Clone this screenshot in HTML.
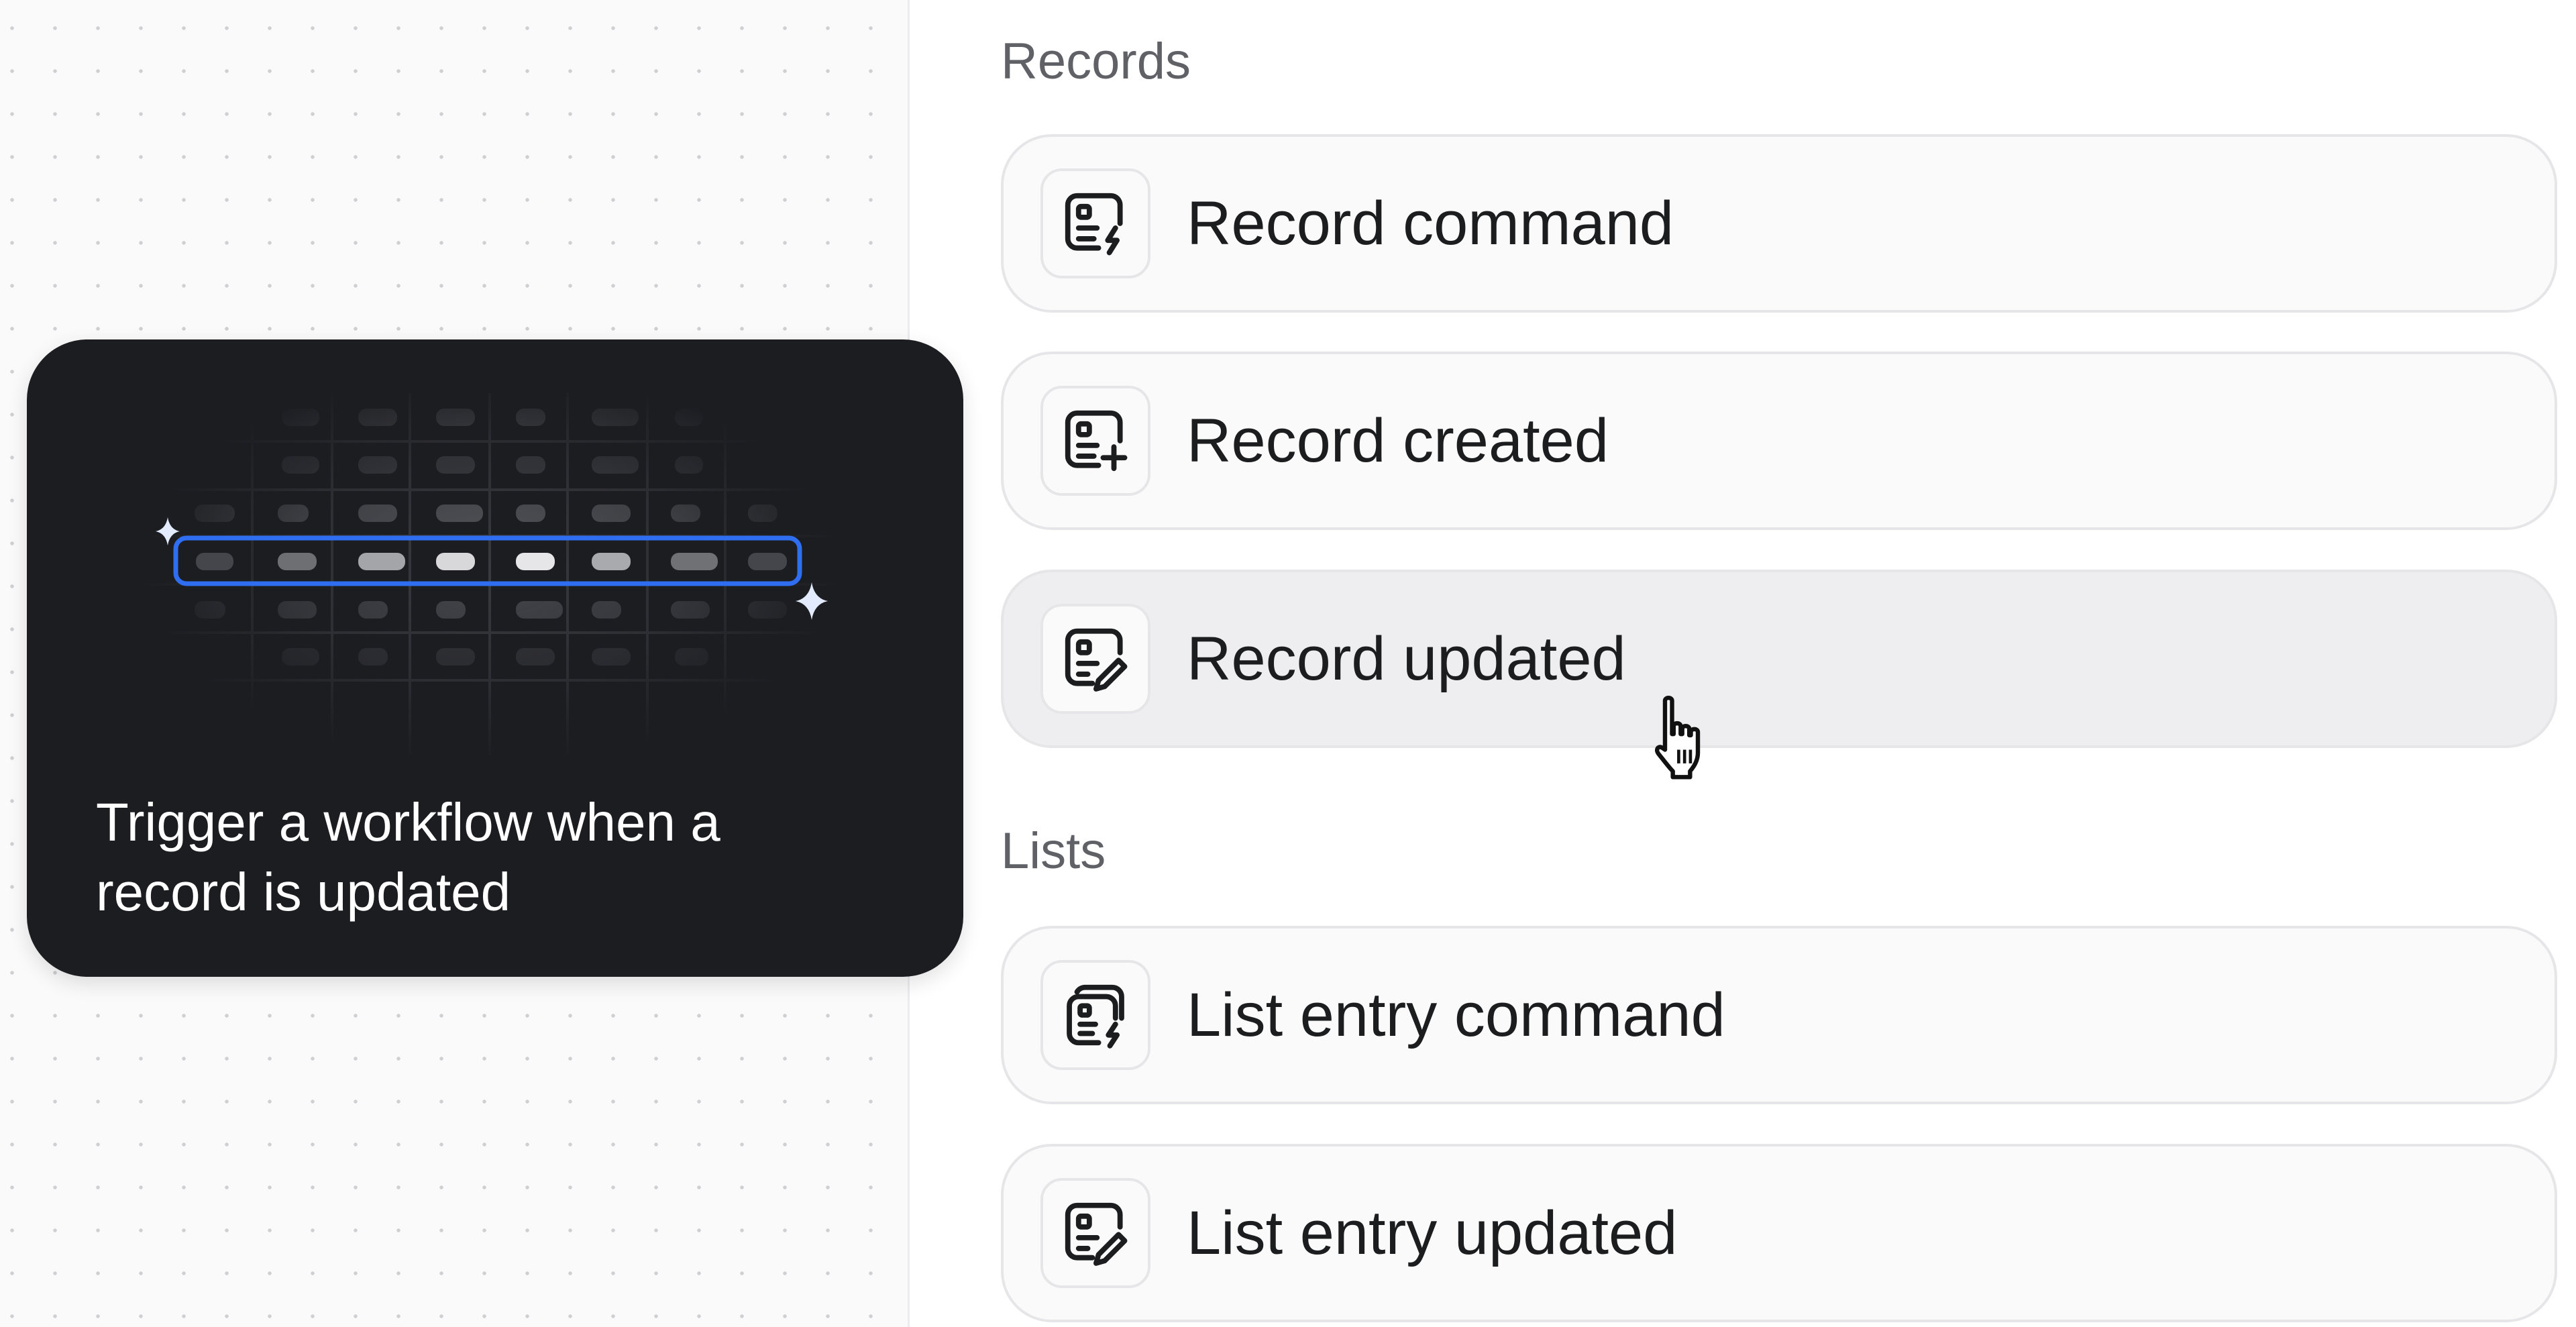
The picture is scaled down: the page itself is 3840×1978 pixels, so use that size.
<!DOCTYPE html>
<html><head><meta charset="utf-8"><style>
*{margin:0;padding:0;box-sizing:border-box}
body{width:3840px;height:1978px;position:relative;overflow:hidden;background:#fff;font-family:"Liberation Sans",sans-serif}
#left{position:absolute;left:0;top:0;width:1356px;height:1978px;background-color:#fafafa;background-image:radial-gradient(circle,#cfcfd2 2.5px,transparent 3px);background-size:64px 64px;background-position:-14px 10px;border-right:3px solid #ececee}
#card{position:absolute;left:40px;top:506px;width:1396px;height:950px;background:#1c1d21;border-radius:90px;box-shadow:0 10px 30px rgba(0,0,0,.12)}
#card .t{position:absolute;left:103px;top:668px;color:#fff;font-size:80px;line-height:104px;width:1250px}
.lbl{position:absolute;left:1492px;color:#5f6166;font-size:76px}
.item{position:absolute;left:1492px;width:2320px;height:266px;border:4px solid #e6e6e9;border-radius:76px;background:#fafafa}
.item.h{background:#eeeef0}
.ic{position:absolute;left:55px;top:47px;width:164px;height:164px;border:4px solid #e6e6e9;border-radius:32px;background:#fafafa}
.ic svg{position:absolute;left:23px;top:23px}
.item .tx{position:absolute;left:273px;top:0;line-height:258px;font-size:92px;color:#1c1d1f}
</style></head><body>
<div id="left"></div>
<div id="card">
<svg width="1396" height="950" style="position:absolute;left:0;top:0">
<defs>
<radialGradient id="rg" cx="0.5" cy="0.5" r="0.5"><stop offset="0" stop-color="#fff" stop-opacity="1"/><stop offset="0.55" stop-color="#fff" stop-opacity=".6"/><stop offset="1" stop-color="#fff" stop-opacity="0"/></radialGradient>
<mask id="m"><rect x="160" y="40" width="1060" height="600" fill="url(#rg)"/></mask>
</defs>
<g mask="url(#m)" stroke="#3a3b40" stroke-width="4">
<line x1="336" y1="80" x2="336" y2="620"/><line x1="455" y1="80" x2="455" y2="620"/><line x1="571" y1="80" x2="571" y2="620"/><line x1="690" y1="80" x2="690" y2="620"/><line x1="806" y1="80" x2="806" y2="620"/><line x1="925" y1="80" x2="925" y2="620"/><line x1="1041" y1="80" x2="1041" y2="620"/>
<line x1="100" y1="152" x2="1300" y2="152"/><line x1="100" y1="224" x2="1300" y2="224"/><line x1="100" y1="293" x2="1300" y2="293"/><line x1="100" y1="365" x2="1300" y2="365"/><line x1="100" y1="437" x2="1300" y2="437"/><line x1="100" y1="508" x2="1300" y2="508"/>
</g>
<g mask="url(#m)" fill="#55565b">
<rect x="380" y="103" width="56" height="26" rx="12"/><rect x="494" y="103" width="58" height="26" rx="12"/><rect x="610" y="103" width="58" height="26" rx="12"/><rect x="729" y="103" width="44" height="26" rx="12"/><rect x="842" y="103" width="70" height="26" rx="12"/><rect x="966" y="103" width="42" height="26" rx="12"/>
<g fill="#404146"><rect x="380" y="174" width="56" height="26" rx="12"/><rect x="494" y="174" width="58" height="26" rx="12"/><rect x="610" y="174" width="58" height="26" rx="12"/><rect x="729" y="174" width="44" height="26" rx="12"/><rect x="842" y="174" width="70" height="26" rx="12"/><rect x="966" y="174" width="42" height="26" rx="12"/></g>
<rect x="250" y="246" width="60" height="26" rx="12"/><rect x="374" y="246" width="46" height="26" rx="12"/><rect x="494" y="246" width="58" height="26" rx="12"/><rect x="610" y="246" width="70" height="26" rx="12"/><rect x="729" y="246" width="44" height="26" rx="12"/><rect x="842" y="246" width="58" height="26" rx="12"/><rect x="960" y="246" width="44" height="26" rx="12"/><rect x="1075" y="246" width="44" height="26" rx="12"/>
<g fill="#46474c"><rect x="250" y="390" width="46" height="26" rx="12"/><rect x="374" y="390" width="58" height="26" rx="12"/><rect x="494" y="390" width="44" height="26" rx="12"/><rect x="610" y="390" width="44" height="26" rx="12"/><rect x="729" y="390" width="70" height="26" rx="12"/><rect x="842" y="390" width="44" height="26" rx="12"/><rect x="960" y="390" width="58" height="26" rx="12"/><rect x="1075" y="390" width="58" height="26" rx="12"/></g>
<g fill="#35363b"><rect x="380" y="460" width="56" height="26" rx="12"/><rect x="494" y="460" width="44" height="26" rx="12"/><rect x="610" y="460" width="58" height="26" rx="12"/><rect x="729" y="460" width="58" height="26" rx="12"/><rect x="842" y="460" width="58" height="26" rx="12"/><rect x="966" y="460" width="50" height="26" rx="12"/></g>
</g>
<g>
<rect x="252" y="318" width="56" height="26" rx="12" fill="#45464b"/><rect x="374" y="318" width="58" height="26" rx="12" fill="#6e6f73"/><rect x="494" y="318" width="70" height="26" rx="12" fill="#a4a5a8"/><rect x="610" y="318" width="58" height="26" rx="12" fill="#d8d8da"/><rect x="729" y="318" width="58" height="26" rx="12" fill="#e6e6e8"/><rect x="842" y="318" width="58" height="26" rx="12" fill="#a9aaad"/><rect x="960" y="318" width="70" height="26" rx="12" fill="#707175"/><rect x="1075" y="318" width="58" height="26" rx="12" fill="#45464b"/>
</g>
<rect x="222" y="296" width="930" height="68" rx="16" fill="none" stroke="#2f6ef0" stroke-width="7"/>
<path d="M210 265 Q213 283 228 286 Q213 289 210 307 Q207 289 192 286 Q207 283 210 265Z" fill="#e3ebff"/>
<path d="M1170 362 Q1174 386 1194 390 Q1174 394 1170 418 Q1166 394 1146 390 Q1166 386 1170 362Z" fill="#e3ebff"/>
</svg>
<div class="t">Trigger a workflow when a<br>record is updated</div>
</div>

<div class="lbl" style="top:48px">Records</div>
<div class="item" style="top:200px"><div class="ic"><svg width="110" height="110" viewBox="0 0 24 24" fill="none" stroke="#1c1d1f" stroke-width="1.7" stroke-linecap="round" stroke-linejoin="round"><path d="M13 20H6a3 3 0 0 1-3-3V6a3 3 0 0 1 3-3h11a3 3 0 0 1 3 3v6"/><rect x="6.5" y="6.5" width="3.5" height="3.5" rx=".8"/><path d="M6.5 13.5h6M6.5 17h5"/><path d="M18.5 13.5l-2.5 4h3l-2.5 4"/></svg></div><div class="tx">Record command</div></div>
<div class="item" style="top:524px"><div class="ic"><svg width="110" height="110" viewBox="0 0 24 24" fill="none" stroke="#1c1d1f" stroke-width="1.7" stroke-linecap="round" stroke-linejoin="round"><path d="M13 20H6a3 3 0 0 1-3-3V6a3 3 0 0 1 3-3h11a3 3 0 0 1 3 3v6"/><rect x="6.5" y="6.5" width="3.5" height="3.5" rx=".8"/><path d="M6.5 13.5h6M6.5 17h5"/><path d="M18 14v7M14.5 17.5h7"/></svg></div><div class="tx">Record created</div></div>
<div class="item h" style="top:849px"><div class="ic"><svg width="110" height="110" viewBox="0 0 24 24" fill="none" stroke="#1c1d1f" stroke-width="1.7" stroke-linecap="round" stroke-linejoin="round"><path d="M11 20H6a3 3 0 0 1-3-3V6a3 3 0 0 1 3-3h11a3 3 0 0 1 3 3v4"/><rect x="6.5" y="6.5" width="3.5" height="3.5" rx=".8"/><path d="M6.5 13.5h6M6.5 17h3"/><path d="M19.5 12.5l2 2-6.5 6.5-2.8.8.8-2.8z"/></svg></div><div class="tx">Record updated</div></div>

<div class="lbl" style="top:1225px">Lists</div>
<div class="item" style="top:1380px"><div class="ic"><svg width="110" height="110" viewBox="0 0 24 24" fill="none" stroke="#1c1d1f" stroke-width="1.7" stroke-linecap="round" stroke-linejoin="round"><path d="M6 4.5a3 3 0 0 1 2.5-1.5h9a3 3 0 0 1 3 3v7"/><path d="M13 21H6.5a3 3 0 0 1-3-3V9a3 3 0 0 1 3-3h9a3 3 0 0 1 3 3v4"/><rect x="7" y="9" width="3" height="3" rx=".7"/><path d="M7 15h5M7 18h4"/><path d="M18.5 15l-2.3 3.5h2.8l-2.3 3.5"/></svg></div><div class="tx">List entry command</div></div>
<div class="item" style="top:1705px"><div class="ic"><svg width="110" height="110" viewBox="0 0 24 24" fill="none" stroke="#1c1d1f" stroke-width="1.7" stroke-linecap="round" stroke-linejoin="round"><path d="M11 20H6a3 3 0 0 1-3-3V6a3 3 0 0 1 3-3h11a3 3 0 0 1 3 3v4"/><rect x="6.5" y="6.5" width="3.5" height="3.5" rx=".8"/><path d="M6.5 13.5h6M6.5 17h3"/><path d="M19.5 12.5l2 2-6.5 6.5-2.8.8.8-2.8z"/></svg></div><div class="tx">List entry updated</div></div>

<svg width="130" height="140" viewBox="0 0 22 24" style="position:absolute;left:2452px;top:1030px">
<path d="M5 2.5c0-1 1.8-1 1.8 0v8.5h.4V9c0-1 1.8-1 1.8 0v2h.4v-1.3c0-1 1.8-1 1.8 0V11.3h.4v-.8c0-1 1.8-1 1.8 0v5.3c0 2-1 3.5-2 4.7v1.5H7v-1.5c-1-1-2.5-3-3.7-4.5-.7-.9-.2-2 .8-1.6l.9.6z" fill="#fff" stroke="#111" stroke-width="1.1" stroke-linejoin="round"/>
<path d="M8.5 15v3.5M10 15v3.5M11.5 15v3.5" stroke="#111" stroke-width=".8"/>
</svg>
</body></html>
